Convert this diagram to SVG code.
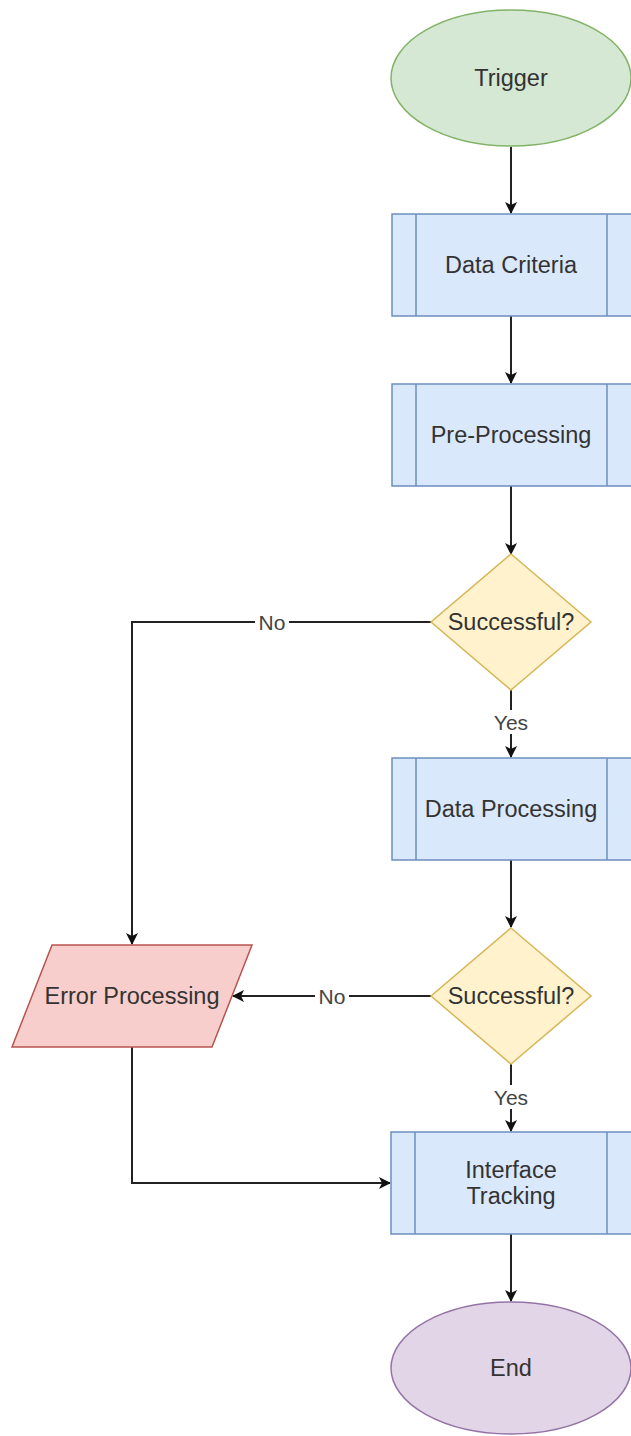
<svg xmlns="http://www.w3.org/2000/svg" width="631" height="1436" viewBox="0 0 631 1436">
<style>
.t{font-family:"Liberation Sans",Arial,sans-serif;font-size:23.5px;fill:#333;text-anchor:middle;dominant-baseline:central}
.l{font-family:"Liberation Sans",Arial,sans-serif;font-size:21px;fill:#444;text-anchor:middle;dominant-baseline:central}
.e{fill:none;stroke:#222;stroke-width:2}
.proc{fill:#dae8fc;stroke:#6c8ebf;stroke-width:1.5}
.dec{fill:#fff2cc;stroke:#d6b656;stroke-width:1.5}
</style>
<defs>
<marker id="ah" viewBox="0 0 12 12" refX="11" refY="6" markerWidth="12" markerHeight="12" markerUnits="userSpaceOnUse" orient="auto">
<path d="M0,0 L12,6 L0,12 L3,6 Z" fill="#111"/>
</marker>
</defs>
<rect width="631" height="1436" fill="#fff"/>
<g id="connectors">
<path class="e" d="M511,147 V213" marker-end="url(#ah)"/>
<path class="e" d="M511,316 V383" marker-end="url(#ah)"/>
<path class="e" d="M511,486 V554" marker-end="url(#ah)"/>
<path class="e" d="M431,622 H132 V944" marker-end="url(#ah)"/>
<rect x="255" y="610" width="34" height="24" fill="#fff"/>
<text class="l" x="272" y="622">No</text>
<path class="e" d="M511,690 V757" marker-end="url(#ah)"/>
<rect x="491" y="710" width="40" height="24" fill="#fff"/>
<text class="l" x="511" y="722">Yes</text>
<path class="e" d="M511,860 V927" marker-end="url(#ah)"/>
<path class="e" d="M431,996 H233" marker-end="url(#ah)"/>
<rect x="315" y="984" width="34" height="24" fill="#fff"/>
<text class="l" x="332" y="996">No</text>
<path class="e" d="M511,1064 V1131" marker-end="url(#ah)"/>
<rect x="491" y="1085" width="40" height="24" fill="#fff"/>
<text class="l" x="511" y="1097">Yes</text>
<path class="e" d="M132,1047 V1183 H390" marker-end="url(#ah)"/>
<path class="e" d="M511,1234 V1301" marker-end="url(#ah)"/>
</g>
<g id="trigger">
<ellipse cx="511" cy="78" rx="120" ry="68" fill="#d5e8d4" stroke="#82b366" stroke-width="1.5"/>
<text class="t" x="511" y="78">Trigger</text>
</g>
<g id="data-criteria">
<rect class="proc" x="392" y="214" width="240" height="102"/>
<path class="proc" d="M416,214 V316 M607,214 V316"/>
<text class="t" x="511" y="265">Data Criteria</text>
</g>
<g id="pre-processing">
<rect class="proc" x="392" y="384" width="240" height="102"/>
<path class="proc" d="M416,384 V486 M607,384 V486"/>
<text class="t" x="511" y="435">Pre-Processing</text>
</g>
<g id="successful-1">
<polygon class="dec" points="511,554 591,622 511,690 431,622"/>
<text class="t" x="511" y="622">Successful?</text>
</g>
<g id="data-processing">
<rect class="proc" x="392" y="758" width="240" height="102"/>
<path class="proc" d="M416,758 V860 M607,758 V860"/>
<text class="t" x="511" y="809">Data Processing</text>
</g>
<g id="successful-2">
<polygon class="dec" points="511,928 591,996 511,1064 431,996"/>
<text class="t" x="511" y="996">Successful?</text>
</g>
<g id="error-processing">
<polygon points="52,945 252,945 212,1047 12,1047" fill="#f8cecc" stroke="#b85450" stroke-width="1.5"/>
<text class="t" x="132" y="996">Error Processing</text>
</g>
<g id="interface-tracking">
<rect class="proc" x="391" y="1132" width="241" height="102"/>
<path class="proc" d="M415,1132 V1234 M607,1132 V1234"/>
<text class="t" x="511" y="1170">Interface</text>
<text class="t" x="511" y="1196">Tracking</text>
</g>
<g id="end">
<ellipse cx="511" cy="1368" rx="120" ry="66" fill="#e1d5e7" stroke="#9673a6" stroke-width="1.5"/>
<text class="t" x="511" y="1368">End</text>
</g>
</svg>
